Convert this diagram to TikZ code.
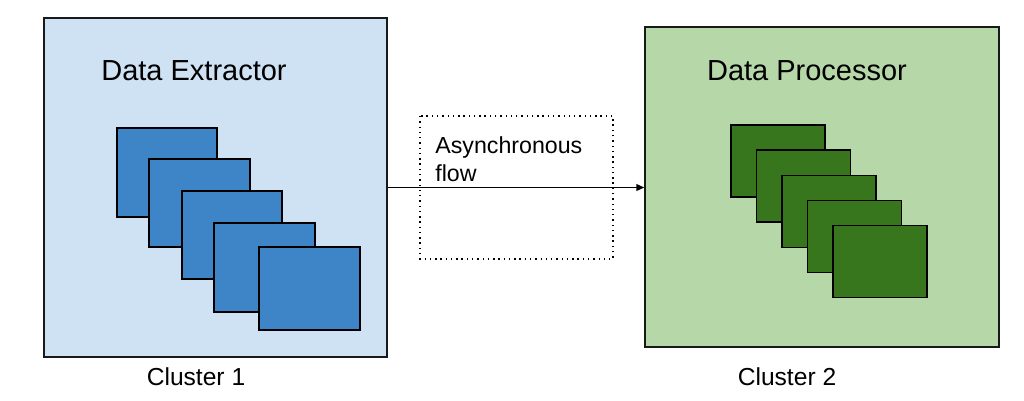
\documentclass[tikz,border=0pt]{standalone}
\usepackage{fontspec}
\setmainfont{Liberation Sans}
\usetikzlibrary{arrows.meta}
\definecolor{extbg}{HTML}{CFE2F3}
\definecolor{extfg}{HTML}{3D85C6}
\definecolor{procbg}{HTML}{B6D7A8}
\definecolor{procfg}{HTML}{38761D}
\begin{document}
\begin{tikzpicture}[x=0.02cm,y=-0.02cm,
    cluster/.style={draw=black!90,line width=0.8pt,inner sep=0pt},
    worker/.style={draw=black,line width=0.8pt},
    title/.style={anchor=base,font=\fontsize{16.5}{20}\selectfont},
    caption/.style={anchor=base,font=\fontsize{14}{17}\selectfont}]
    \useasboundingbox (0,0) rectangle (1024,401);

    \node[cluster,fill=extbg,minimum width=6.86cm,minimum height=6.78cm] (ext) at (215.5,187.5) {};
    \node[cluster,fill=procbg,minimum width=7.08cm,minimum height=6.4cm] (proc) at (822,187) {};

    \node[title] (exttitle) at (194,81) {Data Extractor};
    \node[title] (proctitle) at (807,81) {Data Processor};

    % stacked workers
    \foreach \x/\y/\w/\h in {117/128/100/89,149/159/101/88,182/191/100/88,214/223/101/89,259/247/101/83}
        \draw[worker,fill=extfg] (\x,\y) rectangle ++(\w,\h);
    \foreach \i in {0,...,4}
        \draw[worker,fill=procfg] (731+25.5*\i,125+25.2*\i) rectangle ++(94,72);

    \draw[line width=0.8pt,dash pattern=on 0.8pt off 2.2pt] (420,116) rectangle (613,259);
    \node[anchor=north west,inner sep=0pt,align=left,font=\fontsize{13.2}{15.9}\selectfont] (flowlabel) at (435,136.5) {Asynchronous\\flow};

    \draw[line width=0.9pt,-{Triangle[length=4.5pt,width=3.8pt]}] (ext.east) -- (ext.east -| proc.west);

    \node[caption] (c1) at (196,386) {Cluster 1};
    \node[caption] (c2) at (787,386) {Cluster 2};

\end{tikzpicture}
\end{document}
